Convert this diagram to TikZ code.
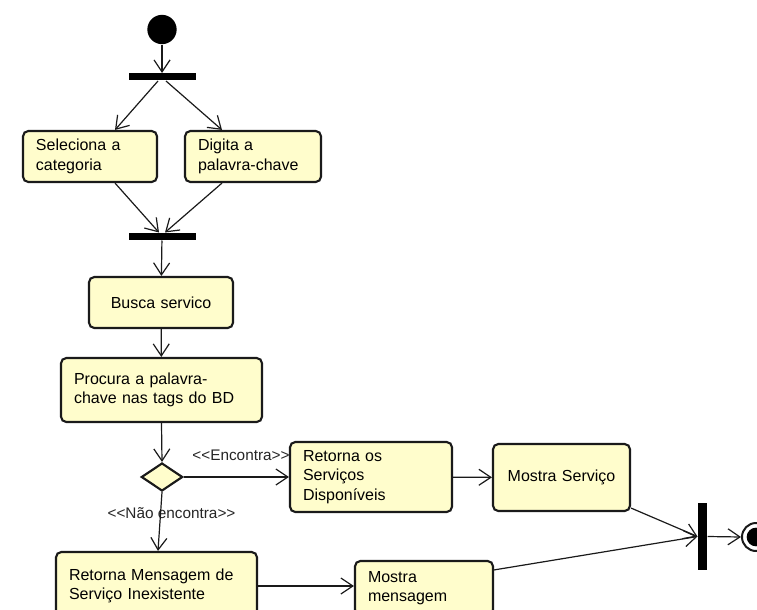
\documentclass[tikz,border=0pt]{standalone}
\usepackage{fontspec}
\setmainfont{Liberation Sans}
\usetikzlibrary{arrows.meta,shapes.geometric,calc}

\definecolor{actfill}{RGB}{255,253,204}
\definecolor{actline}{RGB}{26,26,26}

\tikzset{every picture/.style={line width=0.75pt}}
\tikzset{
  action/.style={draw=actline, fill=actfill, rounded corners=4pt, line width=1.6pt,
    inner xsep=9.75pt, inner ysep=2pt, align=left,
    font=\fontsize{12}{14.6}\selectfont},
  single/.style={action, align=center},
  bar/.style={fill=black, inner sep=0pt},
  flow/.style={-{Straight Barb[length=9pt,width=12pt]}, line width=0.9pt, draw=actline},
  guard/.style={inner sep=0.75pt, font=\fontsize{11.5}{13}\selectfont, text=black!85}
}

\begin{document}
\begin{tikzpicture}[x=0.75pt,y=0.75pt,yscale=-1,xscale=1]
\clip (0,0) rectangle (757,610);
\fill[white] (0,0) rectangle (757,610);

%Shape: Initial node
\node[circle, fill=black, minimum size=22pt, inner sep=0pt] (inicio) at (162,29.5) {};
%Shape: Fork bars
\node[bar, minimum width=50.25pt, minimum height=5.25pt] (fork1) at (162,77) {};
\node[bar, minimum width=50.25pt, minimum height=5.25pt] (fork2) at (162,236.5) {};
\node[bar, minimum width=6.75pt, minimum height=50.25pt] (fork3) at (702.5,536.5) {};

%Shape: Actions
\node[action, text width=81pt, minimum height=38.25pt] (sel) at (90,156.5) {Seleciona a\\categoria};
\node[action, text width=82.5pt, minimum height=38.25pt] (dig) at (253,156.5) {Digita a\\palavra-chave};
\node[single, text width=88.5pt, minimum height=38.25pt] (busca) at (161,302.5) {Busca servico};
\node[action, text width=131.25pt, minimum height=48pt] (procura) at (161.5,390) {Procura a palavra-\\chave nas tags do BD};
\node[action, text width=102pt, minimum height=52.5pt] (retos) at (371,477) {Retorna os\\Serviços\\Disponíveis};
\node[single, text width=83.25pt, minimum height=50.25pt] (mostraserv) at (561.5,477.5) {Mostra Serviço};
\node[action, text width=131.25pt, minimum height=51pt] (retmsg) at (156.5,586) {Retorna Mensagem de\\Serviço Inexistente};
\node[action, text width=84pt, minimum height=40.5pt] (mostramsg) at (424,588) {Mostra\\mensagem};

%Shape: Decision
\node[diamond, draw=actline, fill=actfill, line width=1.6pt, minimum width=31pt, minimum height=21pt, inner sep=0pt] (dec) at (162,477) {};

%Shape: Final node
\node[circle, draw=actline, fill=white, line width=1.5pt, minimum size=21pt, inner sep=0pt] (fim) at (756,537) {};
\node[circle, fill=black, minimum size=14pt, inner sep=0pt] (fimin) at (fim) {};

% Text Node
\node[guard] (enc) at (241,455) {<{}<Encontra>{}>};
% Text Node
\node[guard] (naoenc) at (171.5,513) {<{}<Não encontra>{}>};

%Straight Lines
\draw[flow] (inicio) -- (fork1);
\draw[flow] ($(fork1.south)+(-4,0)$) -- ($(sel.north)+(25,0)$);
\draw[flow] ($(fork1.south)+(4,0)$) -- ($(dig.north)+(-31,0)$);
\draw[flow] ($(sel.south)+(25,0)$) -- ($(fork2.north)+(-3,0)$);
\draw[flow] ($(dig.south)+(-31,0)$) -- ($(fork2.north)+(3,0)$);
\draw[flow] (fork2) -- (busca);
\draw[flow] (busca) -- (procura);
\draw[flow] (procura.south) -- (dec.north);
\draw[flow] (dec.east) -- (retos.west);
\draw[flow] (retos) -- (mostraserv);
\draw[flow] (dec.south) -- ($(retmsg.north)+(1.5,0)$);
\draw[flow] (retmsg.east) -- (retmsg.east -| mostramsg.west);
\draw[flow] ($(mostraserv.south east)+(0,-4)$) -- (fork3.west);
\draw[flow] ($(mostramsg.north east)+(0,10)$) -- (fork3.west);
\draw[flow] (fork3.east) -- (fim.west);

\end{tikzpicture}
\end{document}
